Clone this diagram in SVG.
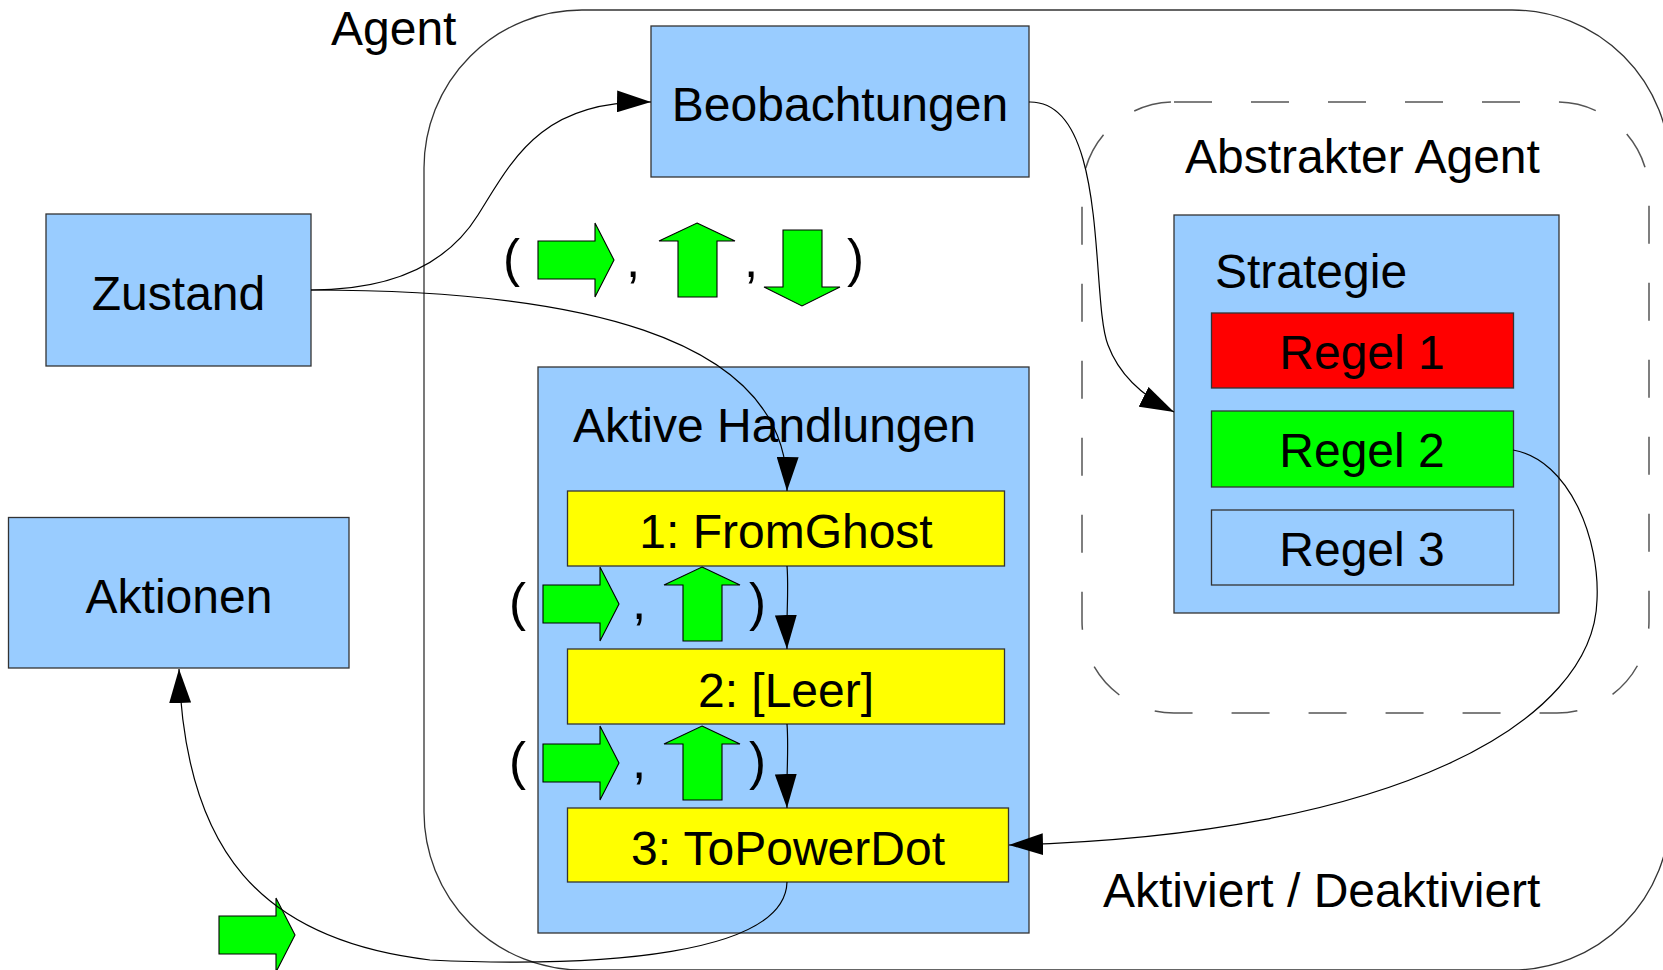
<svg xmlns="http://www.w3.org/2000/svg" xmlns:xlink="http://www.w3.org/1999/xlink" width="1663" height="970" viewBox="0 0 1663 970">
  <style>
    .box { fill: #99ccff; stroke: #333333; stroke-width: 1.3; }
    .lbl { font-family: "Liberation Sans", Arial, sans-serif; font-size: 48px; fill: #000000; }
    .par { font-size: 51px; }
    .mid { text-anchor: middle; }
    .conn { fill: none; stroke: #000000; stroke-width: 1.2; }
    .ga { fill: #00ff00; stroke: #000000; stroke-width: 1.1; }
    .frame { fill: none; stroke: #333333; stroke-width: 1.3; }
    .dash { fill: none; stroke: #555555; stroke-width: 1.5; stroke-dasharray: 38 39; }
  </style>
  <defs>
    <marker id="ah" markerUnits="userSpaceOnUse" markerWidth="34" markerHeight="22" refX="34" refY="11" orient="auto">
      <path d="M0,0 L34,11 L0,22 Z" fill="#000000"/>
    </marker>
    <!-- block arrows used in the action tuples -->
    <path id="arrR" d="M0,18 H57 V0 L76,37 L57,74 V56 H0 Z"/>
    <path id="arrU" d="M38,0 L76,18 H58 V74 H19 V18 H0 Z"/>
    <path id="arrD" d="M19,0 H58 V57 H76 L38,76 L0,57 H19 Z"/>
  </defs>

  <!-- outer agent frame -->
  <g id="agent">
    <rect class="frame" x="424" y="10" width="1246" height="960" rx="158" ry="158"/>
    <text class="lbl" x="331" y="45">Agent</text>
  </g>

  <!-- abstract agent (dashed) -->
  <g id="abstrakter-agent">
    <rect class="dash" x="1082" y="102" width="567" height="611" rx="92" ry="92"/>
    <text class="lbl" x="1185" y="173">Abstrakter Agent</text>
  </g>

  <g id="beobachtungen">
    <rect class="box" x="651" y="26" width="378" height="151"/>
    <text class="lbl mid" x="840" y="121">Beobachtungen</text>
  </g>

  <g id="zustand">
    <rect class="box" x="46" y="214" width="265" height="152"/>
    <text class="lbl mid" x="178.5" y="310">Zustand</text>
  </g>

  <g id="aktionen">
    <rect class="box" x="8.5" y="517.5" width="340.5" height="150.5"/>
    <text class="lbl mid" x="179" y="613">Aktionen</text>
  </g>

  <g id="aktive-handlungen">
    <rect class="box" x="538" y="367" width="491" height="566"/>
    <text class="lbl" x="573" y="442">Aktive Handlungen</text>
  </g>

  <g id="handlung-1">
    <rect class="box" style="fill:#ffff00" x="567.5" y="491" width="437" height="75"/>
    <text class="lbl mid" x="786" y="548">1: FromGhost</text>
  </g>

  <g id="handlung-2">
    <rect class="box" style="fill:#ffff00" x="567.5" y="649" width="437" height="75"/>
    <text class="lbl mid" x="786" y="707">2: [Leer]</text>
  </g>

  <g id="handlung-3">
    <rect class="box" style="fill:#ffff00" x="567.5" y="808" width="441" height="74"/>
    <text class="lbl mid" x="788" y="865">3: ToPowerDot</text>
  </g>

  <g id="strategie">
    <rect class="box" x="1174" y="215" width="385" height="398"/>
    <text class="lbl" x="1215" y="288">Strategie</text>
  </g>

  <g id="regel-1">
    <rect class="box" style="fill:#ff0000" x="1211.5" y="313" width="302" height="75"/>
    <text class="lbl mid" x="1362" y="369">Regel 1</text>
  </g>

  <g id="regel-2">
    <rect class="box" style="fill:#00ff00" x="1211.5" y="411" width="302" height="76"/>
    <text class="lbl mid" x="1362" y="467">Regel 2</text>
  </g>

  <g id="regel-3">
    <rect class="box" x="1211.5" y="510" width="302" height="75"/>
    <text class="lbl mid" x="1362" y="566">Regel 3</text>
  </g>

  <!-- observation tuple -->
  <g id="tupel-beobachtung">
    <text class="lbl par" x="503" y="276">(</text>
    <use xlink:href="#arrR" class="ga" x="538" y="223"/>
    <text class="lbl par" x="626" y="277">,</text>
    <use xlink:href="#arrU" class="ga" x="659" y="223"/>
    <text class="lbl par" x="744" y="277">,</text>
    <use xlink:href="#arrD" class="ga" x="764" y="230"/>
    <text class="lbl par" x="847" y="276">)</text>
  </g>

  <!-- action tuples between the active actions -->
  <g id="tupel-1">
    <text class="lbl par" x="509" y="620">(</text>
    <use xlink:href="#arrR" class="ga" x="543" y="567"/>
    <text class="lbl par" x="632" y="619">,</text>
    <use xlink:href="#arrU" class="ga" x="664" y="567"/>
    <text class="lbl par" x="749" y="620">)</text>
  </g>

  <g id="tupel-2">
    <text class="lbl par" x="509" y="779">(</text>
    <use xlink:href="#arrR" class="ga" x="543" y="726"/>
    <text class="lbl par" x="632" y="778">,</text>
    <use xlink:href="#arrU" class="ga" x="664" y="726"/>
    <text class="lbl par" x="749" y="779">)</text>
  </g>

  <g id="aktion-ausgabe">
    <use xlink:href="#arrR" class="ga" x="219" y="898"/>
  </g>

  <g id="label-aktiviert">
    <text class="lbl" x="1103" y="907">Aktiviert / Deaktiviert</text>
  </g>

  <!-- connectors -->
  <g id="connectors">
    <path class="conn" marker-end="url(#ah)" d="M311,290 C400,290 450,260 478,215 C512,161 540,100 651,102"/>
    <path class="conn" marker-end="url(#ah)" d="M311,290 C560,290 790,330 787,491"/>
    <path class="conn" marker-end="url(#ah)" d="M1029,102 C1110,100 1090,300 1108,345 C1118,372 1140,395 1174,412"/>
    <path class="conn" marker-end="url(#ah)" d="M787,566 C789,590 786,620 787,649"/>
    <path class="conn" marker-end="url(#ah)" d="M787,724 C789,750 786,780 787,808"/>
    <path class="conn" marker-end="url(#ah)" d="M1513,450 C1570,460 1600,540 1597,600 C1594,720 1400,835 1009,845"/>
    <path class="conn" marker-end="url(#ah)" d="M787,882 C785,955 600,968 430,960 C260,940 185,850 179,669"/>
  </g>
</svg>
